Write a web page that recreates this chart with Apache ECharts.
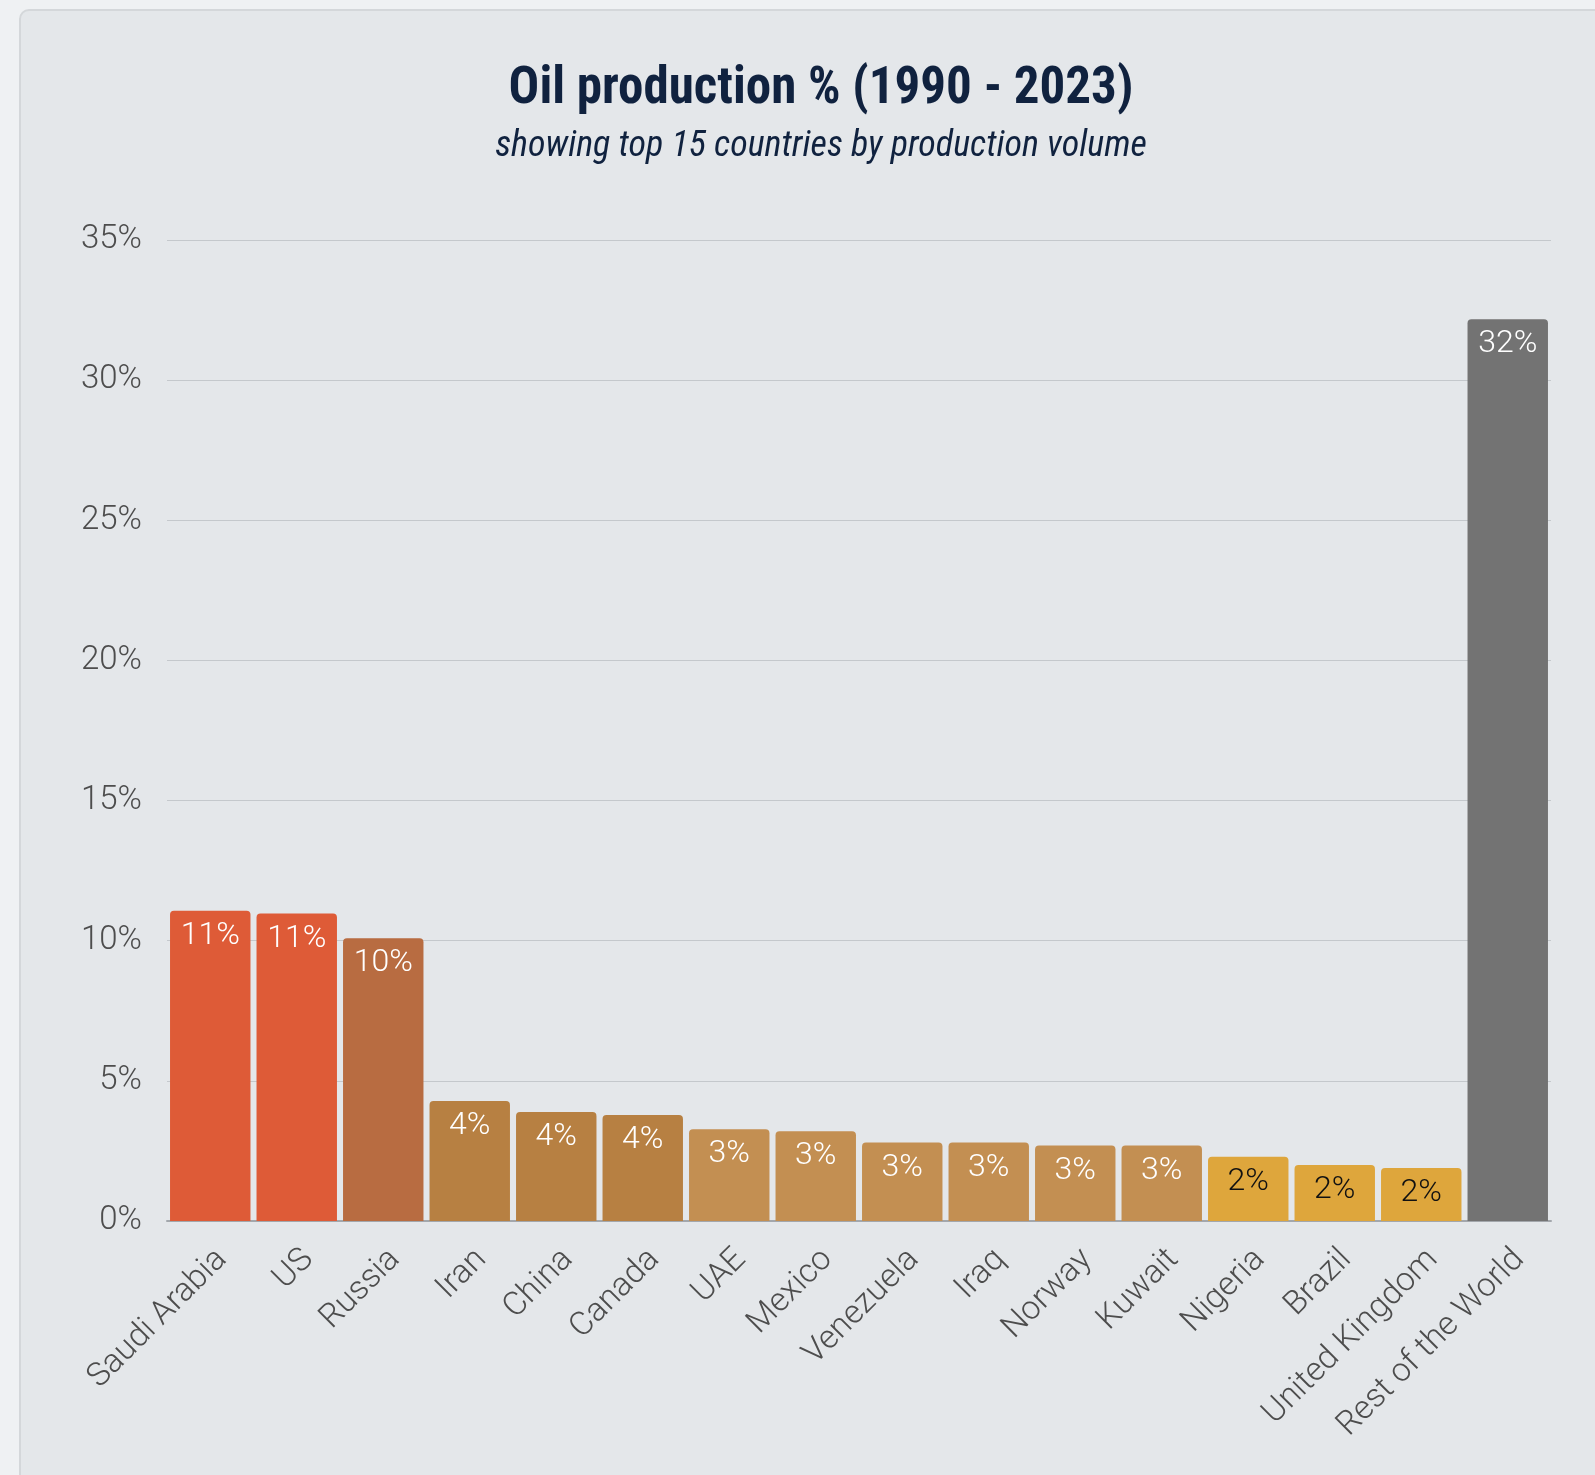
<!DOCTYPE html>
<html>
<head>
<meta charset="utf-8">
<script src="https://cdn.jsdelivr.net/npm/echarts@6/dist/echarts.min.js"></script>
<style>
  html, body { margin: 0; padding: 0; background: #eff1f3; }
  body { width: 1595px; height: 1475px; position: relative; overflow: hidden; }
  .card {
    position: absolute; left: 19px; top: 9px; width: 1620px; height: 1520px;
    background: #e4e7ea; border: 2px solid #d4d7da; border-radius: 10px; box-sizing: border-box;
  }
  #chart { position: absolute; left: 0; top: 0; width: 1595px; height: 1475px; }
</style>
</head>
<body>
<div class="card"></div>
<div id="chart"></div>
<script>
// Share of world oil production, 1990-2023 (%)
const countries = ['Saudi Arabia', 'US', 'Russia', 'Iran', 'China', 'Canada', 'UAE', 'Mexico',
  'Venezuela', 'Iraq', 'Norway', 'Kuwait', 'Nigeria', 'Brazil', 'United Kingdom', 'Rest of the World'];
const sharePct = [11.07, 10.97, 10.09, 4.28, 3.89, 3.78, 3.27, 3.2, 2.8, 2.8, 2.69, 2.69, 2.29, 2.0, 1.89, 32.17];
const yTicks = [0, 5, 10, 15, 20, 25, 30, 35];

const barColors = ['#de5b37', '#de5b37', '#b86c41', '#b78042', '#b78042', '#b78042',
  '#c38f52', '#c38f52', '#c38f52', '#c38f52', '#c38f52', '#c38f52',
  '#dea63c', '#dea63c', '#dea63c', '#737373'];
const labelColors = barColors.map(c => c === '#dea63c' ? '#111111' : '#ffffff');

const chart = echarts.init(document.getElementById('chart'), null, { renderer: 'canvas' });
const narrow = '"Liberation Sans Narrow", "Roboto Condensed", "Open Sans", sans-serif';
const light = 'Roboto, Inter, sans-serif';

chart.setOption({
  backgroundColor: 'transparent',
  animation: false,
  title: [
    {
      text: 'Oil production % (1990 - 2023)',
      left: 816, top: 60, textAlign: 'center',
      textStyle: { fontFamily: narrow, fontWeight: 'bold', fontSize: 51, color: '#10223f' }
    },
    {
      text: 'showing top 15 countries by production volume',
      left: 816, top: 124, textAlign: 'center',
      textStyle: { fontFamily: narrow, fontStyle: 'italic', fontWeight: 'normal', fontSize: 36, color: '#10223f' }
    }
  ],
  grid: { left: 167, right: 44, top: 240, bottom: 254, containLabel: false },
  xAxis: {
    type: 'category',
    data: countries,
    axisTick: { show: false },
    axisLine: { show: true, lineStyle: { color: '#a3a7ac', width: 2 } },
    axisLabel: {
      rotate: 45, interval: 0, margin: 22, verticalAlign: 'top',
      fontFamily: light, fontWeight: 300, fontSize: 33, color: '#4d4d4d'
    }
  },
  yAxis: {
    type: 'value',
    min: yTicks[0], max: yTicks[yTicks.length - 1], interval: yTicks[1] - yTicks[0],
    axisLine: { show: false },
    axisTick: { show: false },
    splitLine: { lineStyle: { color: '#c4c8cc', width: 1 } },
    axisLabel: {
      margin: 25, formatter: '{value}%',
      fontFamily: light, fontWeight: 300, fontSize: 33, color: '#4d4d4d'
    }
  },
  series: [{
    type: 'bar',
    barCategoryGap: '7%',
    data: sharePct.map((v, i) => ({
      value: v,
      itemStyle: { color: barColors[i], borderRadius: [4, 4, 0, 0] },
      label: { color: labelColors[i] }
    })),
    label: {
      show: true, position: 'insideTop', distance: 9,
      fontFamily: light, fontWeight: 300, fontSize: 32,
      formatter: p => Math.round(p.value) + '%'
    }
  }]
});
</script>
</body>
</html>
